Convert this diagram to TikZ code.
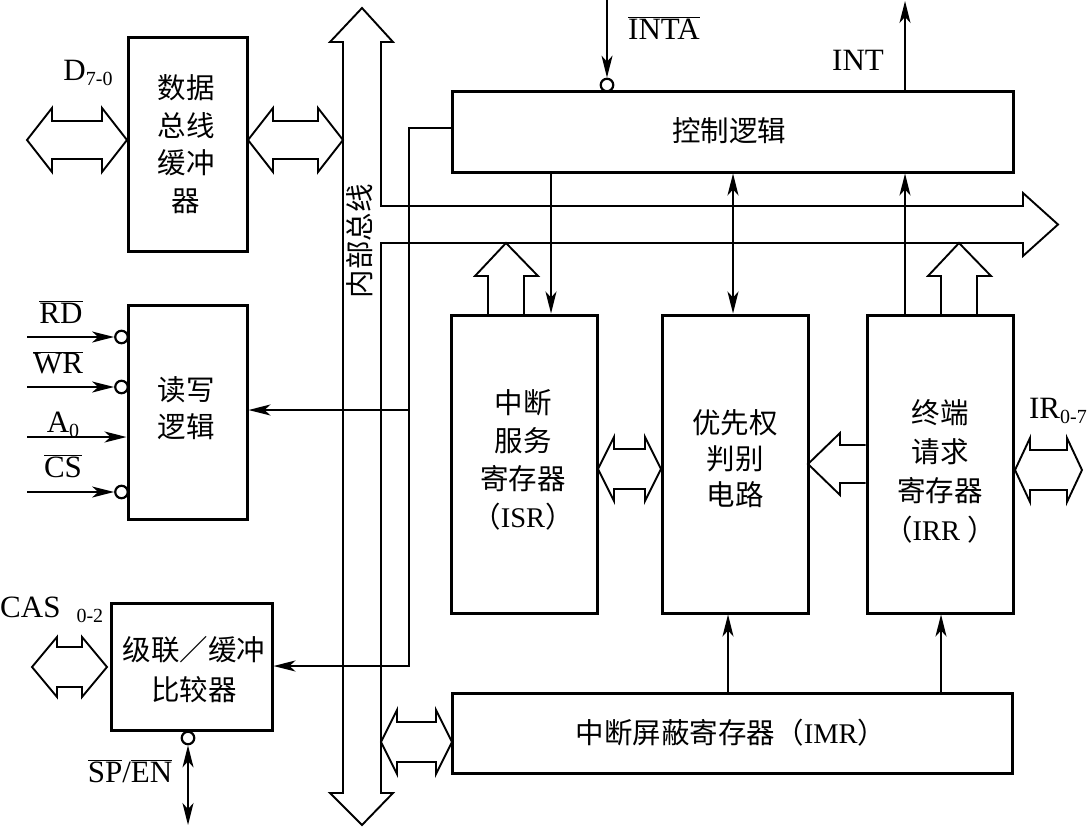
\documentclass[tikz,border=0pt]{standalone}
\usepackage{fontspec}
\setmainfont{Liberation Serif}
\newfontfamily\cjk{Noto Sans CJK SC}
\usetikzlibrary{arrows.meta}
\newcommand{\hdarrowx}[6]{%
  \draw[hollow] (#1,#3) -- ({#1+#6},{#3-#4}) -- ({#1+#6},{#3-#5}) -- ({#2-#6},{#3-#5}) -- ({#2-#6},{#3-#4}) -- (#2,#3) -- ({#2-#6},{#3+#4}) -- ({#2-#6},{#3+#5}) -- ({#1+#6},{#3+#5}) -- ({#1+#6},{#3+#4}) -- cycle;}
\tikzset{
  blk/.style={draw, line width=3pt, inner sep=0pt},
  ctext/.style={font=\cjk\fontsize{28.5}{38}\selectfont, align=center, inner sep=0pt},
  ltext/.style={font=\fontsize{31}{34}\selectfont, inner sep=0pt},
  conn/.style={line width=1.7pt},
  hollow/.style={line width=1.9pt, line join=miter},
  bub/.style={circle, draw, line width=2.2pt, fill=white, inner sep=0pt, minimum size=12.5pt},
  >={Stealth[length=22pt,width=11pt,inset=6pt]}
}
\newcommand{\sub}[1]{\raisebox{-5pt}{\fontsize{20}{20}\selectfont #1}}
\begin{document}
\begin{tikzpicture}[x=1pt,y=-1pt]
\useasboundingbox (0,0) rectangle (1089,827);
\fill[white] (0,0) rectangle (1089,827);

% internal bus (vertical + horizontal branch)
\draw[hollow] (343,42) -- (330,42) -- (362,8) -- (393,42) -- (381,42) -- (381,206)
  -- (1023,206) -- (1023,193) -- (1058,224.5) -- (1023,256) -- (1023,243) -- (381,243)
  -- (381,793) -- (393,793) -- (362,825) -- (330,793) -- (343,793) -- cycle;
\node[ctext, rotate=90] (busl) at (360,241) {内部总线};

% boxes
\node[blk, minimum width=119pt, minimum height=214pt] (buf) at (187.5,144) {};
\node[blk, minimum width=119pt, minimum height=214pt] (rw) at (187.5,412) {};
\node[blk, minimum width=161pt, minimum height=127pt] (cas) at (191.5,666.5) {};
\node[blk, minimum width=561pt, minimum height=81pt] (ctrl) at (732.5,131.5) {};
\node[blk, minimum width=146pt, minimum height=298pt] (isr) at (524,464) {};
\node[blk, minimum width=146pt, minimum height=298pt] (pri) at (735,464) {};
\node[blk, minimum width=146pt, minimum height=298pt] (irr) at (940,464) {};
\node[blk, minimum width=560pt, minimum height=80pt] (imr) at (732,733) {};

% box texts
\node[ctext, font=\cjk\fontsize{28.5}{37.5}\selectfont] (buft) at (186,144) {数据\\总线\\缓冲\\器};
\node[ctext, font=\cjk\fontsize{28.5}{37}\selectfont] (rwt) at (186,408) {读写\\逻辑};
\node[ctext, font=\cjk\fontsize{28.5}{40}\selectfont] (cast) at (194,670) {级联／缓冲\\比较器};
\node[ctext] (ctrlt) at (729,131) {控制逻辑};
\node[ctext] (isrt) at (523,460) {中断\\服务\\寄存器\\（{\rmfamily ISR}）};
\node[ctext, font=\cjk\fontsize{28.5}{36}\selectfont] (prit) at (735,459) {优先权\\判别\\电路};
\node[ctext, font=\cjk\fontsize{28.5}{39}\selectfont] (irrt) at (940,471) {终端\\请求\\寄存器\\（{\rmfamily IRR }）};
\node[ctext] (imrt) at (731,733) {中断屏蔽寄存器（{\rmfamily IMR}）};

% hollow arrows
\hdarrowx{27}{127}{140}{32}{19}{25}
\hdarrowx{248}{343}{140}{32}{19}{25}
\hdarrowx{598}{661}{469}{32}{20}{16}
\hdarrowx{1015}{1082}{470}{32}{20}{15}
\hdarrowx{32}{107}{667}{30}{20}{25}
\hdarrowx{381}{452}{742}{32}{20}{16}
\draw[hollow] (irr.west |- 0,445) -- (840,445) -- (840,433) -- (808,464) -- (840,495) -- (840,483) -- (irr.west |- 0,483);
\draw[hollow] (488,315) -- (488,276) -- (475,276) -- (506,243) -- (538,276) -- (524,276) -- (524,315);
\draw[hollow] (941,315) -- (941,276) -- (928,276) -- (959,243) -- (991,276) -- (977,276) -- (977,315);

% helper coordinates
\coordinate (xisr) at (551,0);
\coordinate (xpri) at (733,0);
\coordinate (xint) at (905,0);
\coordinate (xmp) at (728,0);
\coordinate (xmi) at (941,0);
\coordinate (c1) at (452,128);
\coordinate (c2) at (409,128);
\coordinate (c3) at (409,410);
\coordinate (c4) at (409,666);

% control connections
\draw[conn,->] (c1) -- (c2) -- (c4) -- (cas.east |- c4);
\draw[conn,->] (c3) -- (rw.east |- c3);
\draw[conn,->] (ctrl.south -| xisr) -- (isr.north -| xisr);
\draw[conn,<->] (ctrl.south -| xpri) -- (pri.north -| xpri);
\draw[conn,->] (irr.north -| xint) -- (ctrl.south -| xint);
\coordinate (intend) at (905,1);
\draw[conn,->] (ctrl.north -| xint) -- (intend);
\node[bub] (inta) at (607,85) {};
\coordinate (intatop) at (607,0);
\draw[conn,->] (intatop) -- (inta.north);
\draw[conn,->] (imr.north -| xmp) -- (pri.south -| xmp);
\draw[conn,->] (imr.north -| xmi) -- (irr.south -| xmi);

% read/write inputs
\node[bub] (rdb) at (121.5,337) {};
\node[bub] (wrb) at (121.5,387) {};
\node[bub] (csb) at (121.5,492) {};
\coordinate (rds) at (27,337);
\coordinate (wrs) at (27,387);
\coordinate (a0s) at (27,437);
\coordinate (css) at (27,492);
\draw[conn,->] (rds) -- (rdb.west);
\draw[conn,->] (wrs) -- (wrb.west);
\draw[conn,->] (a0s) -- (rw.west |- a0s);
\draw[conn,->] (css) -- (csb.west);

% cascade SP/EN
\node[bub] (spb) at (188,738) {};
\coordinate (spend) at (188,825);
\draw[conn,<->] (spb.south) -- (spend);

% labels
\node[ltext] (ld) at (88,73) {D\sub{7-0}};
\node[ltext] (lrd) at (61,312) {$\overline{\mbox{RD}}$};
\node[ltext] (lwr) at (58,363) {$\overline{\mbox{WR}}$};
\node[ltext] (la0) at (63,425) {A\sub{0}};
\node[ltext] (lcs) at (63,466) {$\overline{\mbox{CS}}$};
\node[ltext] (linta) at (664,28) {$\overline{\mbox{INTA}}$};
\node[ltext] (lint) at (858,60) {INT};
\node[ltext, anchor=west] (lcas) at (0,610) {CAS\hspace{16pt}\sub{0-2}};
\node[ltext] (lsp) at (130,771) {$\overline{\mbox{SP}}$/$\overline{\mbox{EN}}$};
\node[ltext, anchor=east] (lir) at (1087,411) {IR\sub{0-7}};
\end{tikzpicture}
\end{document}
